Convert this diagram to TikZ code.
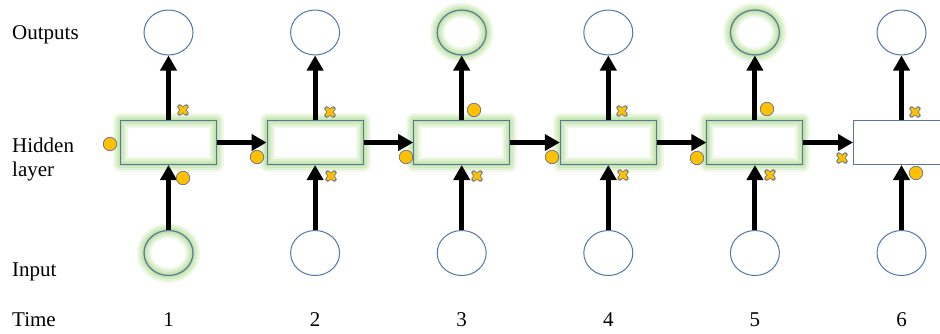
\documentclass[tikz,border=0pt]{standalone}
\usepackage{fontspec}
\setmainfont{Liberation Serif}
\usetikzlibrary{arrows.meta,shapes.geometric}
\definecolor{bordc}{RGB}{84,118,168}
\definecolor{glowc}{RGB}{160,212,120}
\definecolor{dotc}{RGB}{255,192,0}
\definecolor{outc}{RGB}{96,112,150}
\tikzset{
  glowy/.style={
    postaction={draw=glowc,line width=15pt,draw opacity=0.15,line join=round},
    postaction={draw=glowc,line width=11pt,draw opacity=0.2,line join=round},
    postaction={draw=glowc,line width=7pt,draw opacity=0.25,line join=round},
    postaction={draw=glowc,line width=3.5pt,draw opacity=0.3,line join=round},
    postaction={draw=bordc,line width=1pt}},
  hcell/.style={rectangle,draw=bordc,fill=white,line width=1pt,minimum width=96pt,minimum height=44pt,inner sep=0pt},
  neuron/.style={ellipse,draw=bordc,fill=white,line width=1pt,minimum width=49pt,minimum height=45pt,inner sep=0pt},
  flow/.style={line width=5pt,-{Triangle[width=16pt,length=15pt]}},
  gatedot/.style={circle,fill=dotc,draw=outc,line width=0.7pt,minimum size=13.5pt,inner sep=0pt},
  lbl/.style={anchor=base west,inner sep=0pt,font=\rmfamily\fontsize{21}{24}\selectfont},
  num/.style={anchor=base,inner sep=0pt,font=\rmfamily\fontsize{21}{24}\selectfont},
  xm/.pic={
    \draw[outc,line width=4.8pt,line cap=round] (-3.3,-3.3)--(3.3,3.3) (-3.3,3.3)--(3.3,-3.3);
    \draw[dotc,line width=3.2pt,line cap=round] (-3.3,-3.3)--(3.3,3.3) (-3.3,3.3)--(3.3,-3.3);
  }
}
\begin{document}
\begin{tikzpicture}[x=1pt,y=-1pt]
\useasboundingbox (0,0) rectangle (940,333);
% labels
\node[lbl] (lo) at (12,39) {Outputs};
\node[lbl] (lh1) at (12,152) {Hidden};
\node[lbl] (lh2) at (12,176) {layer};
\node[lbl] (li) at (12,276) {Input};
\node[lbl] (lt) at (12,326) {Time};
% columns
\foreach \i/\x in {1/168.5,2/315.1,3/461.7,4/608.3,5/754.9,6/901.5}{
  \node[num] (t\i) at (\x,326) {\i};
}
% outputs
\node[neuron] (o1) at (168.5,32.5) {};
\node[neuron] (o2) at (315.1,32.5) {};
\node[neuron,glowy] (o3) at (461.7,32.5) {};
\node[neuron] (o4) at (608.3,32.5) {};
\node[neuron,glowy] (o5) at (754.9,32.5) {};
\node[neuron] (o6) at (901.5,32.5) {};
% hidden
\node[hcell,glowy] (h1) at (168.5,142.5) {};
\node[hcell,glowy] (h2) at (315.1,142.5) {};
\node[hcell,glowy] (h3) at (461.7,142.5) {};
\node[hcell,glowy] (h4) at (608.3,142.5) {};
\node[hcell,glowy] (h5) at (754.9,142.5) {};
\node[hcell] (h6) at (901.5,142.5) {};
% inputs
\node[neuron,glowy] (i1) at (168.5,253) {};
\node[neuron] (i2) at (315.1,253) {};
\node[neuron] (i3) at (461.7,253) {};
\node[neuron] (i4) at (608.3,253) {};
\node[neuron] (i5) at (754.9,253) {};
\node[neuron] (i6) at (901.5,253) {};
% arrows
\foreach \i in {1,...,6}{
  \draw[flow] (i\i) -- (h\i);
  \draw[flow] (h\i) -- (o\i);
}
\foreach \i/\j in {1/2,2/3,3/4,4/5,5/6}{
  \draw[flow] (h\i) -- (h\j);
}
% gate markers
\foreach \n/\x/\y in {d1/110/144,d2/183/178,d3/257/157,d4/406/157,d5/474/110,d6/552/157,d7/697/158,d8/767/109,d9/916/173}{
  \node[gatedot] (\n) at (\x,\y) {};
}
\foreach \x/\y in {183/110,330/112,331/176,477/176,622/111,623/175,770/175,842/158,915/112}{
  \pic at (\x,\y) {xm};
}
\end{tikzpicture}
\end{document}
